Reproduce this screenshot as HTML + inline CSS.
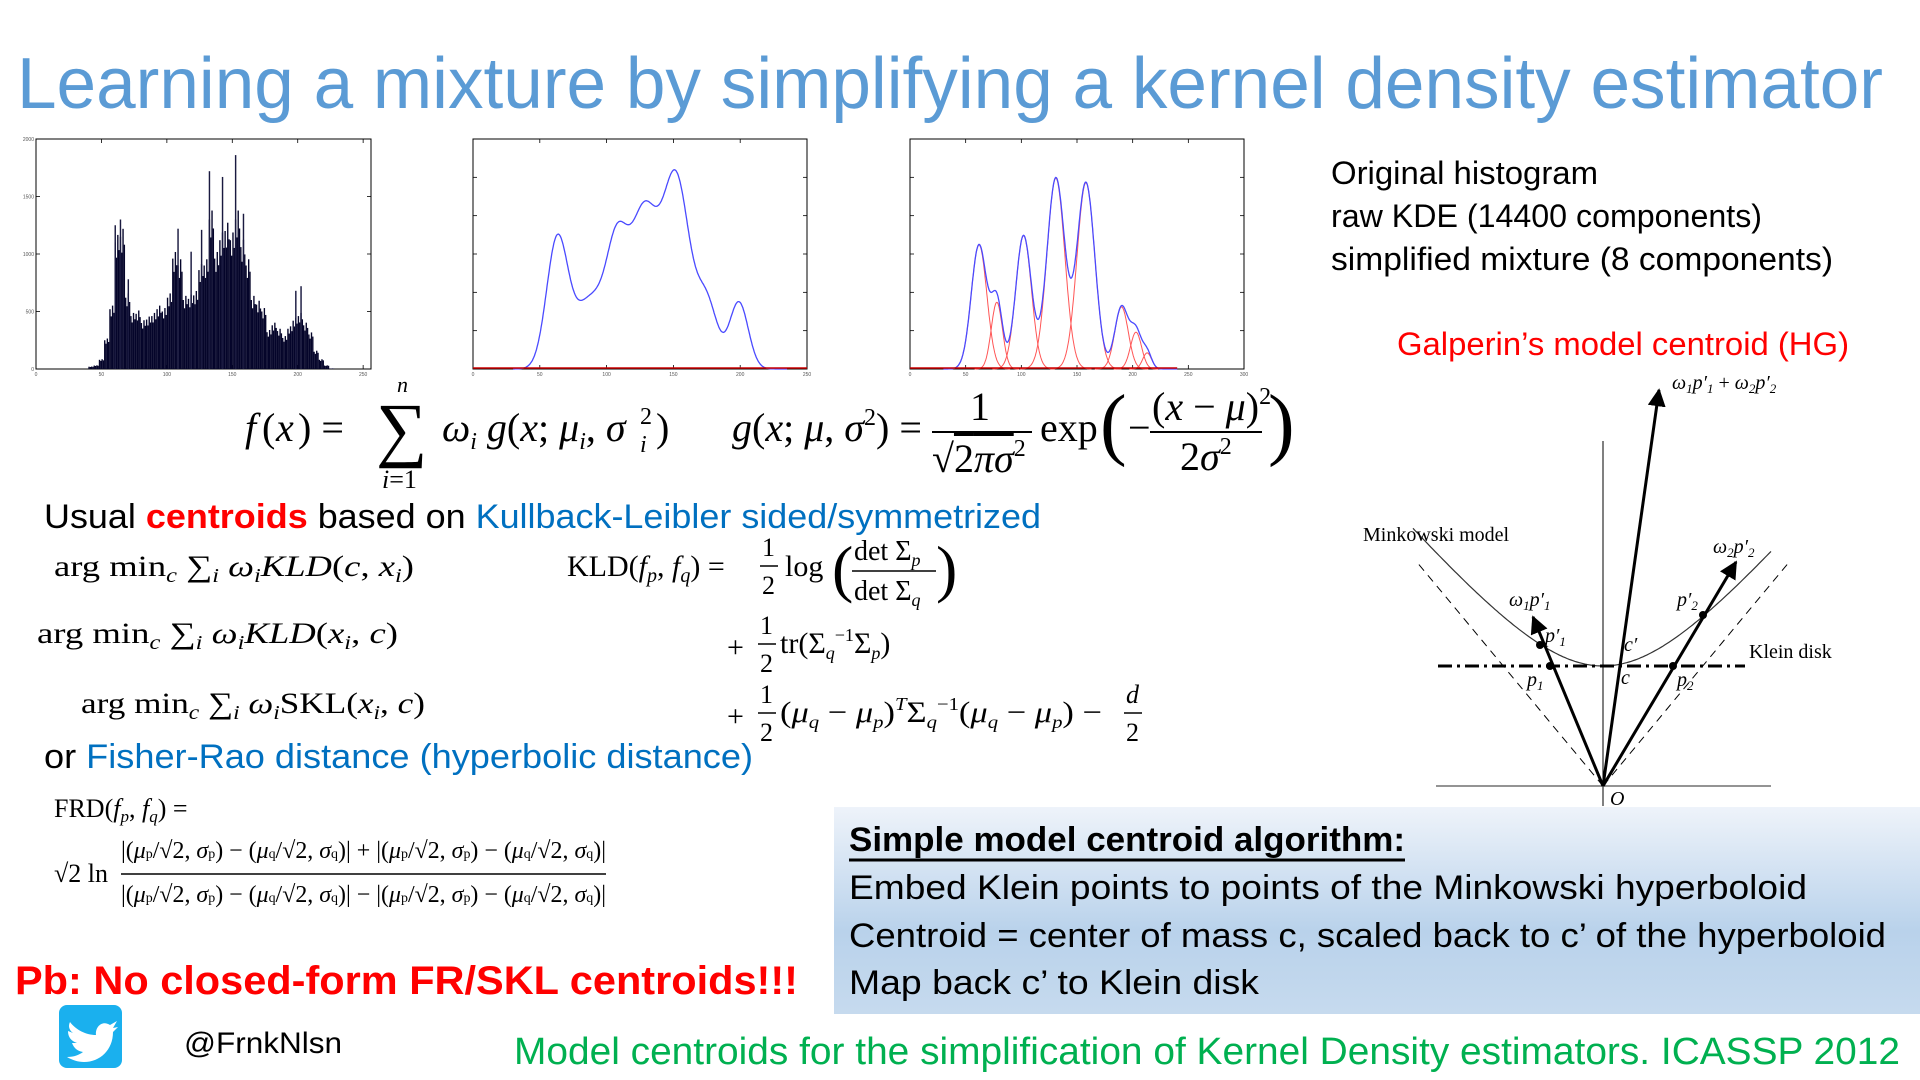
<!DOCTYPE html>
<html><head><meta charset="utf-8"><style>
html,body{margin:0;padding:0;background:#fff;}
svg{display:block;}
.s{font-family:"Liberation Sans",sans-serif;}
.m{font-family:"Liberation Serif",serif;}
.i{font-style:italic;}
</style></head><body>
<svg id="slide" width="1920" height="1080" viewBox="0 0 1920 1080" xmlns="http://www.w3.org/2000/svg">
<defs>
<linearGradient id="boxg" x1="0" y1="0" x2="0" y2="1">
<stop offset="0" stop-color="#eef3fa"/><stop offset="0.6" stop-color="#b9d2eb"/><stop offset="1" stop-color="#c6daee"/>
</linearGradient>
<marker id="ah" viewBox="0 0 10 10" refX="9" refY="5" markerWidth="6" markerHeight="6" orient="auto"><path d="M0,0 L10,5 L0,10 z" fill="#000"/></marker>
</defs>

<text class="s" x="17" y="108" font-size="72" fill="#5b9bd5" textLength="1866" lengthAdjust="spacingAndGlyphs">Learning a mixture by simplifying a kernel density estimator</text>

<g id="chart1"></g>
<g id="chart2"></g>
<g id="chart3"></g>

<g class="s" font-size="32" fill="#000">
<text x="1331" y="184" textLength="267" lengthAdjust="spacingAndGlyphs">Original histogram</text>
<text x="1331" y="227" textLength="431" lengthAdjust="spacingAndGlyphs">raw KDE (14400 components)</text>
<text x="1331" y="270" textLength="502" lengthAdjust="spacingAndGlyphs">simplified mixture (8 components)</text>
</g>
<text class="s" x="1397" y="355" font-size="32" fill="#ff0000" textLength="452" lengthAdjust="spacingAndGlyphs">Galperin’s model centroid (HG)</text>

<g class="m" font-size="40" fill="#000">
<text x="245" y="441" class="i">f</text><text x="262" y="441">(</text><text x="276" y="441" class="i">x</text><text x="298" y="441">) =</text>
<text x="376" y="453" font-size="72">∑</text>
<text x="397" y="392" font-size="22" class="i">n</text>
<text x="382" y="488" font-size="26"><tspan class="i">i</tspan>=1</text>
<text x="442" y="441"><tspan class="i">ω</tspan><tspan font-size="24" dy="8" class="i">i</tspan><tspan dy="-8" class="i"> g</tspan>(<tspan class="i">x</tspan>; <tspan class="i">μ</tspan><tspan font-size="24" dy="8" class="i">i</tspan><tspan dy="-8">, </tspan><tspan class="i">σ</tspan></text>
<text x="640" y="424" font-size="24">2</text><text x="640" y="452" font-size="24" class="i">i</text><text x="656" y="441">)</text>
<text x="732" y="441"><tspan class="i">g</tspan>(<tspan class="i">x</tspan>; <tspan class="i">μ</tspan>, <tspan class="i">σ</tspan><tspan font-size="24" dy="-16">2</tspan><tspan dy="16">) =</tspan></text>
<text x="970" y="420">1</text>
<line x1="932" y1="432" x2="1032" y2="432" stroke="#000" stroke-width="2"/>
<text x="932" y="472">√<tspan text-decoration="overline">2<tspan class="i">πσ</tspan></tspan><tspan font-size="24" dy="-16">2</tspan></text>
<text x="1040" y="441">exp</text>
<text x="1100" y="450" font-size="80">(</text>
<text x="1128" y="441">−</text>
<text x="1152" y="420">(<tspan class="i">x</tspan> − <tspan class="i">μ</tspan>)<tspan font-size="24" dy="-16">2</tspan></text>
<line x1="1150" y1="432" x2="1262" y2="432" stroke="#000" stroke-width="2"/>
<text x="1180" y="470">2<tspan class="i">σ</tspan><tspan font-size="24" dy="-16">2</tspan></text>
<text x="1268" y="450" font-size="80">)</text>
</g>

<text class="s" x="44" y="528" font-size="34" textLength="997" lengthAdjust="spacingAndGlyphs"><tspan fill="#000">Usual </tspan><tspan fill="#ff0000" font-weight="bold">centroids</tspan><tspan fill="#000"> based on </tspan><tspan fill="#0070c0">Kullback-Leibler sided/symmetrized</tspan></text>

<g class="m" font-size="30" fill="#000">
<text x="54" y="576" textLength="360" lengthAdjust="spacingAndGlyphs">arg min<tspan font-size="20" dy="6" class="i">c</tspan><tspan dy="-6"> ∑</tspan><tspan font-size="20" dy="6" class="i">i</tspan><tspan dy="-6" class="i"> ω</tspan><tspan font-size="20" dy="6" class="i">i</tspan><tspan dy="-6" class="i">KLD</tspan>(<tspan class="i">c</tspan>, <tspan class="i">x</tspan><tspan font-size="20" dy="6" class="i">i</tspan><tspan dy="-6">)</tspan></text>
<text x="37" y="643" textLength="361" lengthAdjust="spacingAndGlyphs">arg min<tspan font-size="20" dy="6" class="i">c</tspan><tspan dy="-6"> ∑</tspan><tspan font-size="20" dy="6" class="i">i</tspan><tspan dy="-6" class="i"> ω</tspan><tspan font-size="20" dy="6" class="i">i</tspan><tspan dy="-6" class="i">KLD</tspan>(<tspan class="i">x</tspan><tspan font-size="20" dy="6" class="i">i</tspan><tspan dy="-6">, </tspan><tspan class="i">c</tspan>)</text>
<text x="81" y="713" textLength="344" lengthAdjust="spacingAndGlyphs">arg min<tspan font-size="20" dy="6" class="i">c</tspan><tspan dy="-6"> ∑</tspan><tspan font-size="20" dy="6" class="i">i</tspan><tspan dy="-6" class="i"> ω</tspan><tspan font-size="20" dy="6" class="i">i</tspan><tspan dy="-6">SKL(</tspan><tspan class="i">x</tspan><tspan font-size="20" dy="6" class="i">i</tspan><tspan dy="-6">, </tspan><tspan class="i">c</tspan>)</text>
</g>

<g class="m" font-size="30" fill="#000">
<text x="567" y="576">KLD(<tspan class="i">f</tspan><tspan font-size="20" dy="6" class="i">p</tspan><tspan dy="-6">, </tspan><tspan class="i">f</tspan><tspan font-size="20" dy="6" class="i">q</tspan><tspan dy="-6">) =</tspan></text>
<text x="762" y="556" font-size="26">1</text><line x1="760" y1="566" x2="778" y2="566" stroke="#000" stroke-width="1.5"/><text x="762" y="594" font-size="26">2</text>
<text x="785" y="576">log</text>
<text x="832" y="590" font-size="64">(</text>
<text x="854" y="560" font-size="28">det Σ<tspan font-size="18" dy="6" class="i">p</tspan></text>
<line x1="852" y1="571" x2="936" y2="571" stroke="#000" stroke-width="1.5"/>
<text x="854" y="600" font-size="28">det Σ<tspan font-size="18" dy="6" class="i">q</tspan></text>
<text x="936" y="590" font-size="64">)</text>
<text x="727" y="657">+</text>
<text x="760" y="634" font-size="26">1</text><line x1="758" y1="644" x2="776" y2="644" stroke="#000" stroke-width="1.5"/><text x="760" y="672" font-size="26">2</text>
<text x="780" y="653">tr(Σ<tspan font-size="18" dy="6" class="i">q</tspan><tspan font-size="18" dy="-18">−1</tspan><tspan dy="12">Σ</tspan><tspan font-size="18" dy="6" class="i">p</tspan><tspan dy="-6">)</tspan></text>
<text x="727" y="726">+</text>
<text x="760" y="703" font-size="26">1</text><line x1="758" y1="713" x2="776" y2="713" stroke="#000" stroke-width="1.5"/><text x="760" y="741" font-size="26">2</text>
<text x="780" y="722" textLength="322" lengthAdjust="spacingAndGlyphs">(<tspan class="i">μ</tspan><tspan font-size="18" dy="6" class="i">q</tspan><tspan dy="-6"> − </tspan><tspan class="i">μ</tspan><tspan font-size="18" dy="6" class="i">p</tspan><tspan dy="-6">)</tspan><tspan font-size="18" dy="-12" class="i">T</tspan><tspan dy="12">Σ</tspan><tspan font-size="18" dy="6" class="i">q</tspan><tspan font-size="18" dy="-18">−1</tspan><tspan dy="12">(</tspan><tspan class="i">μ</tspan><tspan font-size="18" dy="6" class="i">q</tspan><tspan dy="-6"> − </tspan><tspan class="i">μ</tspan><tspan font-size="18" dy="6" class="i">p</tspan><tspan dy="-6">) −</tspan></text>
<text x="1126" y="703" font-size="26" class="i">d</text><line x1="1124" y1="713" x2="1142" y2="713" stroke="#000" stroke-width="1.5"/><text x="1126" y="741" font-size="26">2</text>
</g>

<text class="s" x="44" y="768" font-size="34" textLength="709" lengthAdjust="spacingAndGlyphs"><tspan fill="#000">or </tspan><tspan fill="#0070c0">Fisher-Rao distance (hyperbolic distance)</tspan></text>

<g class="m" font-size="26" fill="#000">
<text x="54" y="817">FRD(<tspan class="i">f</tspan><tspan font-size="17" dy="5" class="i">p</tspan><tspan dy="-5">, </tspan><tspan class="i">f</tspan><tspan font-size="17" dy="5" class="i">q</tspan><tspan dy="-5">) =</tspan></text>
<text x="54" y="882">√2 ln</text>
<text x="121" y="858" font-size="24" textLength="485" lengthAdjust="spacingAndGlyphs">|(<tspan class="i">μ</tspan><tspan font-size="14">p</tspan>/√2, <tspan class="i">σ</tspan><tspan font-size="14">p</tspan>) − (<tspan class="i">μ</tspan><tspan font-size="14">q</tspan>/√2, <tspan class="i">σ</tspan><tspan font-size="14">q</tspan>)| + |(<tspan class="i">μ</tspan><tspan font-size="14">p</tspan>/√2, <tspan class="i">σ</tspan><tspan font-size="14">p</tspan>) − (<tspan class="i">μ</tspan><tspan font-size="14">q</tspan>/√2, <tspan class="i">σ</tspan><tspan font-size="14">q</tspan>)|</text>
<line x1="121" y1="874" x2="606" y2="874" stroke="#000" stroke-width="1.5"/>
<text x="121" y="902" font-size="24" textLength="485" lengthAdjust="spacingAndGlyphs">|(<tspan class="i">μ</tspan><tspan font-size="14">p</tspan>/√2, <tspan class="i">σ</tspan><tspan font-size="14">p</tspan>) − (<tspan class="i">μ</tspan><tspan font-size="14">q</tspan>/√2, <tspan class="i">σ</tspan><tspan font-size="14">q</tspan>)| − |(<tspan class="i">μ</tspan><tspan font-size="14">p</tspan>/√2, <tspan class="i">σ</tspan><tspan font-size="14">p</tspan>) − (<tspan class="i">μ</tspan><tspan font-size="14">q</tspan>/√2, <tspan class="i">σ</tspan><tspan font-size="14">q</tspan>)|</text>
</g>

<g>
<line x1="1603" y1="441" x2="1603" y2="806" stroke="#000" stroke-width="1"/>
<line x1="1436" y1="786" x2="1771" y2="786" stroke="#555" stroke-width="1.2"/>
<line x1="1603" y1="786" x2="1416" y2="561" stroke="#000" stroke-width="1" stroke-dasharray="8,6"/>
<line x1="1603" y1="786" x2="1790" y2="561" stroke="#000" stroke-width="1" stroke-dasharray="8,6"/>
<path id="hyper" fill="none" stroke="#333" stroke-width="1.2"/>
<line x1="1438" y1="666" x2="1745" y2="666" stroke="#000" stroke-width="3" stroke-dasharray="14,5,3,5"/>
<line x1="1603" y1="786" x2="1533" y2="617" stroke="#000" stroke-width="3" marker-end="url(#ah)"/>
<line x1="1603" y1="786" x2="1736" y2="562" stroke="#000" stroke-width="3" marker-end="url(#ah)"/>
<line x1="1603" y1="786" x2="1659" y2="390" stroke="#000" stroke-width="3" marker-end="url(#ah)"/>
<circle cx="1550" cy="666" r="4" fill="#000"/><circle cx="1673" cy="666" r="4" fill="#000"/>
<circle cx="1540" cy="645" r="4" fill="#000"/><circle cx="1703" cy="615" r="4" fill="#000"/>
<g class="m" font-size="20" fill="#000">
<text x="1672" y="389" class="i">ω<tspan font-size="13" dy="4">1</tspan><tspan dy="-4">p′</tspan><tspan font-size="13" dy="4">1</tspan><tspan dy="-4" font-style="normal"> + </tspan>ω<tspan font-size="13" dy="4">2</tspan><tspan dy="-4">p′</tspan><tspan font-size="13" dy="4">2</tspan></text>
<text x="1363" y="541">Minkowski model</text>
<text x="1749" y="658">Klein disk</text>
<text x="1713" y="553" class="i">ω<tspan font-size="13" dy="4">2</tspan><tspan dy="-4">p′</tspan><tspan font-size="13" dy="4">2</tspan></text>
<text x="1509" y="606" class="i">ω<tspan font-size="13" dy="4">1</tspan><tspan dy="-4">p′</tspan><tspan font-size="13" dy="4">1</tspan></text>
<text x="1545" y="642" class="i">p′<tspan font-size="13" dy="4">1</tspan></text>
<text x="1624" y="651" class="i">c′</text>
<text x="1677" y="606" class="i">p′<tspan font-size="13" dy="4">2</tspan></text>
<text x="1527" y="686" class="i">p<tspan font-size="13" dy="4">1</tspan></text>
<text x="1621" y="684" class="i">c</text>
<text x="1677" y="686" class="i">p<tspan font-size="13" dy="4">2</tspan></text>
<text x="1610" y="805" class="i">O</text>
</g>
</g>

<g>
<rect x="834" y="807" width="1086" height="207" fill="url(#boxg)"/>
<g class="s" font-size="34" fill="#000">
<text x="849" y="851" font-weight="bold" textLength="556" lengthAdjust="spacingAndGlyphs">Simple model centroid algorithm:</text>
<line x1="849" y1="860" x2="1405" y2="860" stroke="#000" stroke-width="3"/>
<text x="849" y="899" textLength="958" lengthAdjust="spacingAndGlyphs">Embed Klein points to points of the Minkowski hyperboloid</text>
<text x="849" y="947" textLength="1037" lengthAdjust="spacingAndGlyphs">Centroid = center of mass c, scaled back to c’ of the hyperboloid</text>
<text x="849" y="994" textLength="410" lengthAdjust="spacingAndGlyphs">Map back c’  to Klein disk</text>
</g>
</g>

<text class="s" x="15" y="994" font-size="40" font-weight="bold" fill="#ff0000" textLength="783" lengthAdjust="spacingAndGlyphs">Pb: No closed-form FR/SKL  centroids!!!</text>

<g>
<rect x="59" y="1005" width="63" height="63" rx="8" fill="#1ab0ee"/>
<path d="M70,1022 C76,1030 86,1035 96,1035 C95,1026 103,1020 110,1025 L117,1021 L113,1028 L118,1027 L113,1032 C113,1050 100,1062 84,1062 C78,1062 72,1060 67,1057 C74,1057 79,1055 83,1052 C77,1051 74,1048 72,1043 L77,1043 C71,1041 68,1037 68,1031 L73,1033 C69,1030 68,1026 70,1022 Z" fill="#fff"/>
</g>
<text class="s" x="184" y="1053" font-size="30" fill="#000" textLength="158" lengthAdjust="spacingAndGlyphs">@FrnkNlsn</text>
<text class="s" x="514" y="1064" font-size="38" fill="#00b050" textLength="1386" lengthAdjust="spacingAndGlyphs">Model centroids for the simplification of Kernel Density estimators. ICASSP 2012</text>
</svg>

<script>
const histBins = [40,44,48,52,56,60,64,68,72,76,80,84,88,92,96,100,104,108,112,116,120,124,128,132,136,140,144,148,152,156,160,164,168,172,176,180,184,188,192,196,200,204,208,212,216,220,224];
const histCounts = [20,30,80,250,520,1100,1150,620,460,480,400,430,460,520,500,620,960,900,600,610,640,860,900,1300,960,1120,1200,1120,1300,1060,900,600,560,500,320,380,330,270,350,420,460,380,300,150,80,30,5];
const histSpikeBins = [60,64,70,108,118,126,132,142,152,158,198,202];
const histSpikeCounts = [1250,1300,780,1220,1020,1210,1720,1670,1860,1350,680,720];
const histXTicks = [0,50,100,150,200,250];
const histYTicks = [0,500,1000,1500,2000];

const kdeMeans = [63,88,108,128,152,175,199];
const kdeSigmas = [8,12,8,10,10,8,7];
const kdeHeights = [0.55,0.30,0.47,0.66,0.82,0.28,0.29];
const kdeXTicks = [0,50,100,150,200,250];

const mixMeans = [62,78,102,131,158,190,203,213];
const mixSigmas = [7,5,7,8,8,6,5,4];
const mixHeights = [0.54,0.29,0.58,0.83,0.81,0.27,0.16,0.07];
const mixXTicks = [0,50,100,150,200,250,300];

const NS = 'http://www.w3.org/2000/svg';
function mk(tag, attrs, parent){const e=document.createElementNS(NS,tag);for(const k in attrs)e.setAttribute(k,attrs[k]);parent.appendChild(e);return e;}

function frame(g, x0, y0, w, h, xt, xmax, ny){
  const r = mk('rect',{x:x0,y:y0,width:w,height:h,fill:'#fff',stroke:'#000','stroke-width':1},g);
  
  
  xt.forEach(v=>{
    const px = x0 + v/xmax*w;
    mk('line',{x1:px,y1:y0+h,x2:px,y2:y0+h-4,stroke:'#000','stroke-width':0.8},g);
    mk('line',{x1:px,y1:y0,x2:px,y2:y0+4,stroke:'#000','stroke-width':0.8},g);
    const t = mk('text',{x:px,y:y0+h+7,'font-size':5,'text-anchor':'middle',fill:'#555','font-family':'Liberation Sans'},g);
    t.textContent=v;
    
    
  });
  for(let i=0;i<=ny;i++){
    const py = y0 + h - i/ny*h;
    mk('line',{x1:x0,y1:py,x2:x0+4,y2:py,stroke:'#000','stroke-width':0.8},g);
    mk('line',{x1:x0+w,y1:py,x2:x0+w-4,y2:py,stroke:'#000','stroke-width':0.8},g);
  }
}

(function(){
  const g=document.getElementById('chart1');
  const x0=36,y0=139,w=335,h=230,xmax=256,ymax=2000;
  frame(g,x0,y0,w,h,histXTicks,xmax,4);
  const xs=v=>x0+v/xmax*w, ys=v=>y0+h-v/ymax*h;
  histYTicks.forEach(v=>{const t=mk('text',{x:x0-2,y:ys(v)+2,'font-size':5,'text-anchor':'end',fill:'#555','font-family':'Liberation Sans'},g);t.textContent=v;
    
    });
  histBins.forEach((b,i)=>{
    for(let k=0;k<4;k++){
      const jitter=[1,0.88,1.06,0.94][k];
      const v=histCounts[i]*jitter;
      const r=mk('rect',{x:xs(b+k),y:ys(v),width:w/xmax*1.05,height:ys(0)-ys(v),fill:'#05052a'},g);
      
      
    }
  });
  histSpikeBins.forEach((b,i)=>{
    const v=histSpikeCounts[i];
    const r=mk('rect',{x:xs(b),y:ys(v),width:w/xmax*1.1,height:ys(0)-ys(v),fill:'#1a1a40'},g);
    
    
  });
})();

function gauss(x,m,s,hgt){return hgt*Math.exp(-0.5*((x-m)/s)**2);}

(function(){
  const g=document.getElementById('chart2');
  const x0=473,y0=139,w=334,h=230,xmax=250;
  frame(g,x0,y0,w,h,kdeXTicks,xmax,6);
  const xs=v=>x0+v/xmax*w, ys=v=>y0+h-v*h;
  let d='';
  for(let x=30;x<=235;x+=0.5){
    let y=0;kdeMeans.forEach((m,i)=>{y+=gauss(x,m,kdeSigmas[i],kdeHeights[i]);});
    d+=(d?'L':'M')+xs(x).toFixed(1)+','+ys(y).toFixed(1);
  }
  const p=mk('path',{d:d,fill:'none',stroke:'#4a4aff','stroke-width':1.3},g);
  
  
  const b=mk('line',{x1:x0,y1:y0+h-1,x2:x0+w,y2:y0+h-1,stroke:'#c00','stroke-width':1.5},g);
  
  
})();

(function(){
  const g=document.getElementById('chart3');
  const x0=910,y0=139,w=334,h=230,xmax=300;
  frame(g,x0,y0,w,h,mixXTicks,xmax,6);
  const xs=v=>x0+v/xmax*w, ys=v=>y0+h-v*h;
  mixMeans.forEach((m,i)=>{
    let d='';
    for(let x=m-4*mixSigmas[i];x<=m+4*mixSigmas[i];x+=0.5){
      d+=(d?'L':'M')+xs(x).toFixed(1)+','+ys(gauss(x,m,mixSigmas[i],mixHeights[i])).toFixed(1);
    }
    const p=mk('path',{d:d,fill:'none',stroke:'#ff5555','stroke-width':1},g);
    
    
  });
  let d='';
  for(let x=30;x<=240;x+=0.5){
    let y=0;mixMeans.forEach((m,i)=>{y+=gauss(x,m,mixSigmas[i],mixHeights[i]);});
    d+=(d?'L':'M')+xs(x).toFixed(1)+','+ys(y).toFixed(1);
  }
  const p=mk('path',{d:d,fill:'none',stroke:'#4a4aff','stroke-width':1.3},g);
  
  
  const b=mk('line',{x1:x0,y1:y0+h-1,x2:x0+w*0.8,y2:y0+h-1,stroke:'#c00','stroke-width':1.5},g);
  
  
})();

(function(){
  let d='';
  for(let dx=-190;dx<=168;dx+=2){
    const y=786-Math.sqrt(120*120+(1.2*dx)**2);
    d+=(d?'L':'M')+(1603+dx)+','+y.toFixed(1);
  }
  document.getElementById('hyper').setAttribute('d',d);
})();
</script>
</body></html>
